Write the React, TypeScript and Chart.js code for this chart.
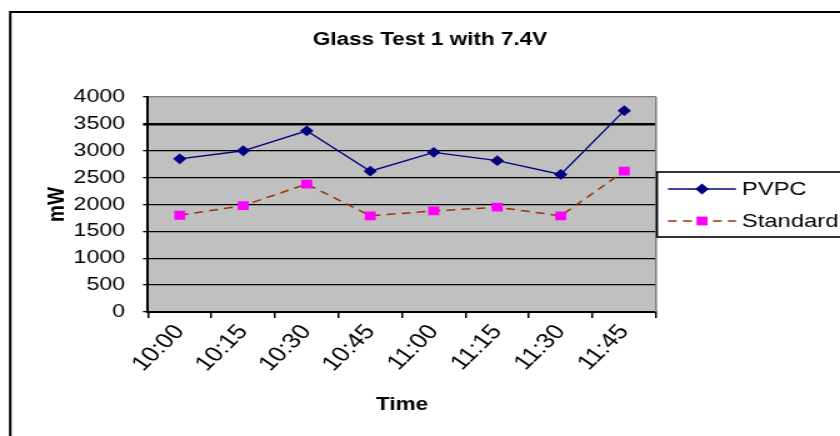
import React, { useEffect, useRef } from 'react';
import { Chart, registerables } from 'chart.js';

Chart.register(...registerables);

const categories = ['10:00', '10:15', '10:30', '10:45', '11:00', '11:15', '11:30', '11:45'];
const pvpcValues = [2850, 3000, 3370, 2620, 2970, 2815, 2560, 3745];
const standardValues = [1800, 1980, 2380, 1790, 1880, 1950, 1790, 2620];
const seriesNames = ['PVPC', 'Standard'];
const chartTitle = 'Glass Test 1 with 7.4V';
const xTitle = 'Time';
const yTitle = 'mW';
const yMin = 0;
const yMax = 4000;
const yStep = 500;

// canvas drawn narrower then stretched horizontally (like the reference picture)
const CW = 672;
const CH = 436;
const FONT = "'Liberation Sans', Arial, sans-serif";

const bgPlugin = {
  id: 'bgPlugin',
  beforeDraw(chart: any) {
    const { ctx, chartArea } = chart;
    ctx.save();
    ctx.fillStyle = '#ffffff';
    ctx.fillRect(0, 0, chart.width, chart.height);
    ctx.fillStyle = '#C0C0C0';
    ctx.fillRect(chartArea.left, chartArea.top, chartArea.right - chartArea.left, chartArea.bottom - chartArea.top);
    ctx.restore();
  },
  beforeDatasetsDraw(chart: any) {
    const { ctx, chartArea } = chart;
    ctx.save();
    ctx.strokeStyle = '#808080';
    ctx.lineWidth = 1.6;
    ctx.beginPath();
    ctx.moveTo(chartArea.right, chartArea.top);
    ctx.lineTo(chartArea.right, chartArea.bottom);
    ctx.stroke();
    ctx.restore();
  },
  afterDraw(chart: any) {
    const { ctx } = chart;
    ctx.save();
    // outer frame
    ctx.strokeStyle = '#000';
    ctx.lineWidth = 2;
    ctx.strokeRect(8.2, 12, 900, 600);
    // title
    ctx.fillStyle = '#000';
    ctx.font = `bold 18px ${FONT}`;
    ctx.textAlign = 'center';
    ctx.textBaseline = 'middle';
    ctx.fillText(chartTitle, 344, 40);
    // legend
    const bx = 525.6;
    const by = 172;
    ctx.lineWidth = 1.6;
    ctx.strokeStyle = '#000';
    ctx.strokeRect(bx, by, 300, 65);
    chart.data.datasets.forEach((ds: any, i: number) => {
      const y = 189 + i * 32;
      ctx.save();
      ctx.strokeStyle = ds.borderColor;
      ctx.lineWidth = ds.borderWidth;
      ctx.setLineDash(ds.borderDash || []);
      ctx.beginPath();
      ctx.moveTo(534.4, y);
      ctx.lineTo(588.8, y);
      ctx.stroke();
      ctx.restore();
      const mx = 561.6;
      ctx.fillStyle = ds.pointBackgroundColor;
      ctx.beginPath();
      if (ds.pointStyle === 'rectRot') {
        const r = ds.pointRadius;
        ctx.moveTo(mx, y - r);
        ctx.lineTo(mx + r, y);
        ctx.lineTo(mx, y + r);
        ctx.lineTo(mx - r, y);
        ctx.closePath();
      } else {
        const s = Math.SQRT1_2 * ds.pointRadius;
        ctx.rect(mx - s, y - s, 2 * s, 2 * s);
      }
      ctx.fill();
      ctx.fillStyle = '#000';
      ctx.font = `19px ${FONT}`;
      ctx.textAlign = 'left';
      ctx.textBaseline = 'middle';
      ctx.fillText(ds.label, 593.6, y + 1);
    });
    ctx.restore();
  },
};

export default function App() {
  const ref = useRef<HTMLCanvasElement | null>(null);

  useEffect(() => {
    document.body.style.margin = '0';
    const canvas = ref.current;
    if (!canvas) return;
    const chart = new Chart(canvas, {
      type: 'line',
      data: {
        labels: categories,
        datasets: [
          {
            label: seriesNames[0],
            data: pvpcValues,
            borderColor: '#000080',
            backgroundColor: '#000080',
            borderWidth: 1.3,
            pointStyle: 'rectRot',
            pointRadius: 5.4,
            pointBackgroundColor: '#000080',
            pointBorderColor: '#000080',
            pointBorderWidth: 0,
            tension: 0,
          },
          {
            label: seriesNames[1],
            data: standardValues,
            borderColor: '#993300',
            backgroundColor: '#FF00FF',
            borderWidth: 1.5,
            borderDash: [7, 5],
            pointStyle: 'rect',
            pointRadius: 6.2,
            pointBackgroundColor: '#FF00FF',
            pointBorderColor: '#FF00FF',
            pointBorderWidth: 0,
            tension: 0,
          },
        ] as any,
      },
      options: {
        animation: false,
        responsive: false,
        devicePixelRatio: 1,
        layout: { padding: { top: 97, right: CW - 524.8, bottom: 0, left: 0 } },
        plugins: {
          legend: { display: false },
          title: { display: false },
          tooltip: { enabled: false },
        },
        scales: {
          x: {
            type: 'category',
            offset: true,
            afterFit: (scale: any) => {
              scale.height = 124;
            },
            grid: {
              offset: true,
              drawOnChartArea: false,
              drawTicks: true,
              tickLength: 6,
              color: '#000',
              lineWidth: 1.5,
            },
            border: { display: true, color: '#000', width: 2 },
            ticks: {
              autoSkip: false,
              minRotation: 50,
              maxRotation: 50,
              padding: 2,
              color: '#000',
              font: { family: FONT, size: 21 },
            },
            title: {
              display: true,
              text: xTitle,
              color: '#000',
              font: { family: FONT, size: 18, weight: 'bold' },
              padding: { top: 4, bottom: 20 },
            },
          },
          y: {
            min: yMin,
            max: yMax,
            afterFit: (scale: any) => {
              scale.width = 118.4;
            },
            grid: {
              color: (c: any) => (c.tick && c.tick.value === yMax ? '#808080' : '#000'),
              tickColor: '#000',
              lineWidth: (c: any) => (c.tick && c.tick.value === 3500 ? 2.6 : 1.3),
              tickLength: 4,
              drawTicks: true,
            },
            border: { display: true, color: '#000', width: 2 },
            ticks: {
              stepSize: yStep,
              padding: 14.4,
              color: '#000',
              font: { family: FONT, size: 18.5 },
              callback: (v: any) => String(v),
            },
            title: {
              display: true,
              text: yTitle,
              color: '#000',
              font: { family: FONT, size: 19, weight: 'bold' },
              padding: { top: 34.2, bottom: 0 },
            },
          },
        },
      } as any,
      plugins: [bgPlugin],
    });
    return () => chart.destroy();
  }, []);

  return (
    <canvas
      ref={ref}
      width={CW}
      height={CH}
      style={{ width: '840px', height: '436px', display: 'block' }}
    />
  );
}
